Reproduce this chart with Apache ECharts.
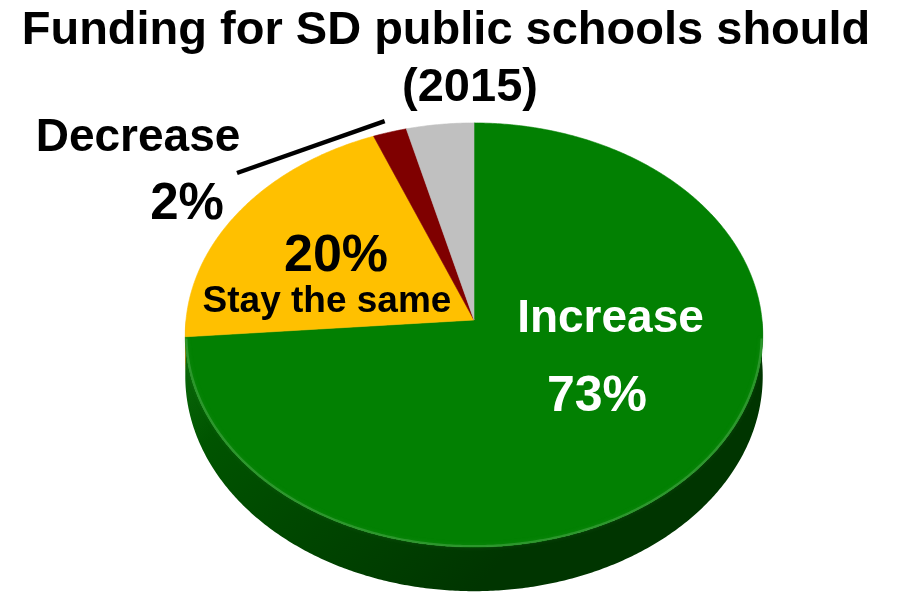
<!DOCTYPE html>
<html>
<head>
<meta charset="utf-8">
<script src="https://cdn.jsdelivr.net/npm/echarts@6/dist/echarts.min.js"></script>
<style>
  html, body { margin: 0; padding: 0; background: #ffffff; }
  #chart { width: 902px; height: 600px; }
</style>
</head>
<body>
<div id="chart"></div>
<script>
// ---- data ----
const titleLines = ['Funding for SD public schools should', '(2015)'];
const categories = ['Increase', 'Stay the same', 'Decrease', "Don't know"];
const values = [73, 20, 2, 4];

// ---- style / layout ----
const sliceColors = ['#028002', '#FFC000', '#7F0000', '#C0C0C0'];
const sideColors = [
  ['#0d6f0d', '#005400', '#003500'],
  ['#d9a200', '#c08c00', '#9a7000'],
  ['#5e0000', '#500000', '#3a0000'],
  ['#a8a8a8', '#959595', '#7d7d7d']
];
const geo = { cx: 474, cy: 320, rx: 288, ry: 211, k: 0.0708, depth: 41 };
const FONT = '"Liberation Sans", Arial, Helvetica, sans-serif';

function proj(deg, r) {
  const t = deg * Math.PI / 180;
  const u = Math.sin(t) * r, v = Math.cos(t) * r;
  const s = 1 / (1 + geo.k * v);
  return { x: geo.cx + geo.rx * u * s, y: geo.cy - geo.ry * v * s, s: s };
}
const total = values.reduce((a, b) => a + b, 0);
function startAngle(i) {
  let b = 0;
  for (let j = 0; j < i; j++) b += values[j];
  return b / total * 360;
}
function arcPts(a0, a1, r, dy) {
  const pts = [];
  const n = Math.max(2, Math.ceil((a1 - a0) / 0.5));
  for (let m = 0; m <= n; m++) {
    const a = a0 + (a1 - a0) * m / n;
    const p = proj(a, r);
    pts.push([p.x, p.y + (dy ? dy * p.s : 0)]);
  }
  return pts;
}

const chart = echarts.init(document.getElementById('chart'), null, { renderer: 'canvas' });

function renderItem(params, api) {
  const i = params.dataIndex;
  const a0 = startAngle(i);
  const a1 = a0 + api.value(0) / total * 360;
  const children = [];
  // visible side wall (front half)
  const s0 = Math.max(a0, 90), s1 = Math.min(a1, 270);
  if (s1 > s0) {
    const topEdge = arcPts(s0, s1, 1, 0);
    const botEdge = arcPts(s0, s1, 1, geo.depth).reverse();
    children.push({
      type: 'polygon', z2: 1,
      shape: { points: topEdge.concat(botEdge) },
      style: {
        fill: new echarts.graphic.LinearGradient(0, 0, 0.5, 1, [
          { offset: 0, color: sideColors[i][0] },
          { offset: 0.25, color: sideColors[i][1] },
          { offset: 1, color: sideColors[i][2] }
        ])
      }
    });
  }
  // top face
  const c = proj(0, 0);
  const face = [[c.x, c.y]].concat(arcPts(a0, a1, 1, 0));
  children.push({
    type: 'polygon', z2: 2,
    shape: { points: face },
    style: { fill: sliceColors[i], stroke: sliceColors[i], lineWidth: 0.6 }
  });
  // soft rim highlight along front edge
  const h0 = Math.max(a0, 95), h1 = Math.min(a1, 265);
  if (h1 > h0) {
    children.push({
      type: 'polyline', z2: 3,
      shape: { points: arcPts(h0, h1, 0.996, 0) },
      style: { stroke: 'rgba(90,175,90,0.45)', lineWidth: 2, fill: null,
               shadowBlur: 4, shadowColor: 'rgba(90,175,90,0.5)' }
    });
  }
  return { type: 'group', children: children };
}

// leader line for the small "Decrease" slice
const decIdx = 2;
const decMid = startAngle(decIdx) + values[decIdx] / total * 180;
const decRim = proj(decMid, 1.04);

const txt = (text, x, y, size, color) => ({
  type: 'text', x: x, y: y, z: 100,
  style: { text: text, fill: color, font: 'bold ' + size + 'px ' + FONT,
           align: 'center', verticalAlign: 'middle' }
});

chart.setOption({
  animation: false,
  backgroundColor: '#ffffff',
  series: [{
    type: 'custom',
    coordinateSystem: 'none',
    renderItem: renderItem,
    data: values.map((v, i) => ({ value: v, name: categories[i] })),
    silent: true
  }],
  graphic: [
    txt(titleLines[0], 446, 31, 47, '#000000'),
    txt(titleLines[1], 470, 88, 47, '#000000'),
    txt(categories[2], 138, 138, 46, '#000000'),
    txt(values[2] + '%', 187, 204.5, 51, '#000000'),
    txt(values[1] + '%', 336, 257, 52, '#000000'),
    txt(categories[1], 327, 301.5, 37, '#000000'),
    txt(categories[0], 610.5, 319, 46, '#ffffff'),
    txt(values[0] + '%', 597, 397.5, 50, '#ffffff'),
    {
      type: 'line', z: 100,
      shape: { x1: decRim.x - 2, y1: decRim.y - 4, x2: 237, y2: 173 },
      style: { stroke: '#000000', lineWidth: 4.5 }
    }
  ]
});
</script>
</body>
</html>
